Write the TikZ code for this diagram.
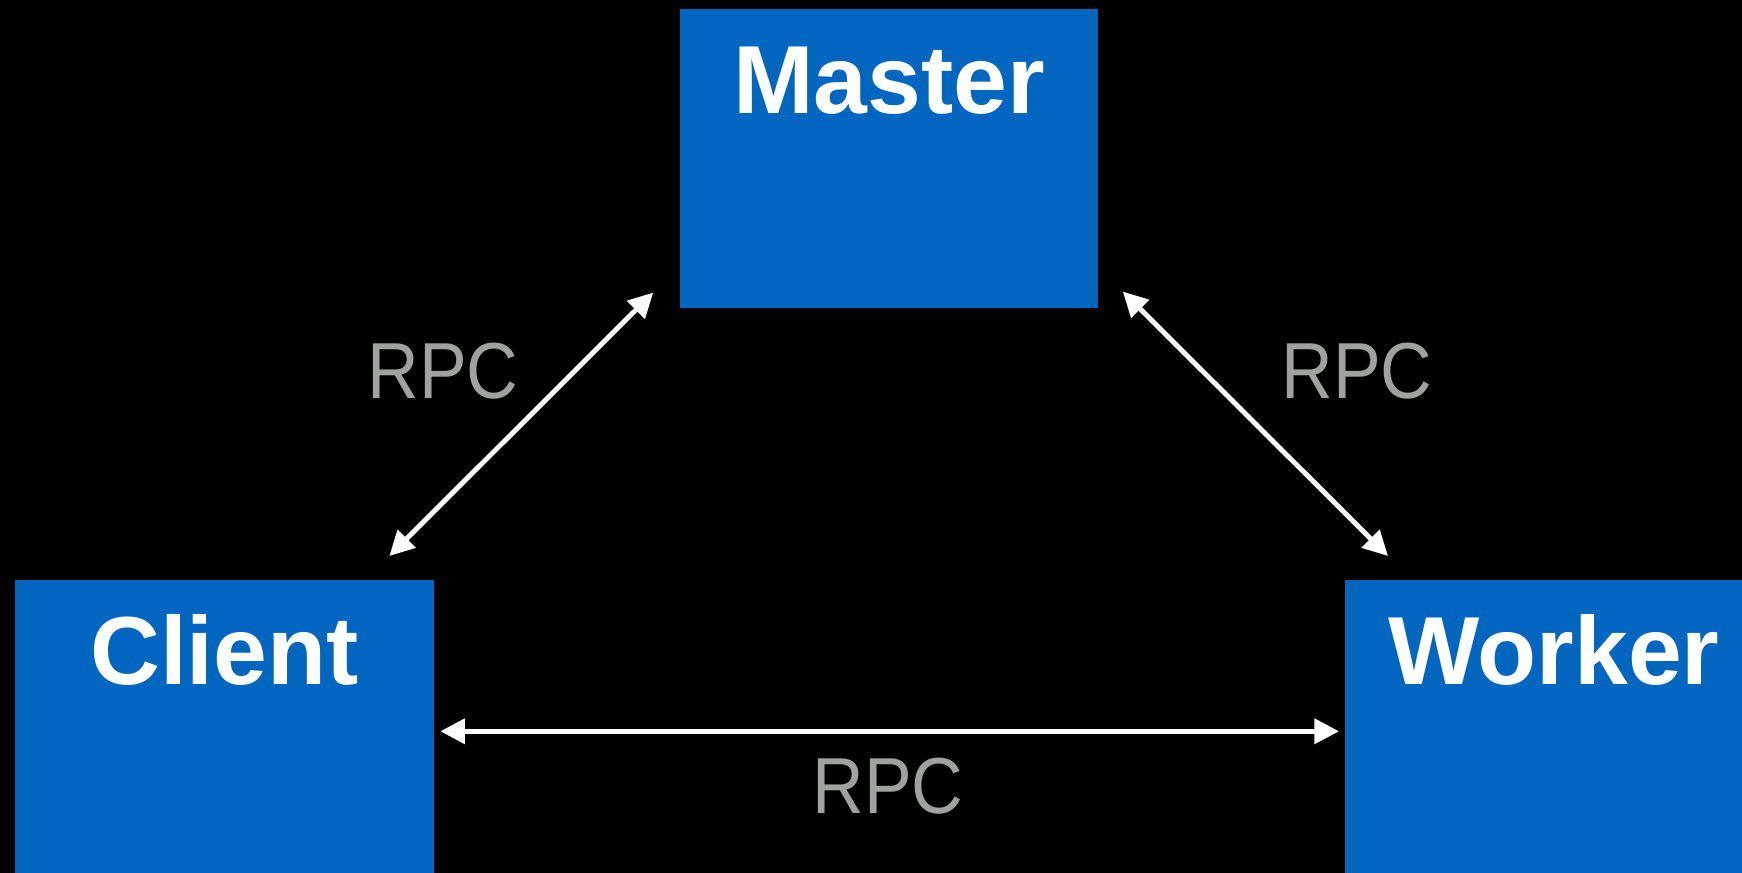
\documentclass[tikz,border=0pt]{standalone}
\usepackage{fontspec}
\setmainfont{Liberation Sans}
\newfontfamily\rpcfont{Liberation Sans}[FakeStretch=0.9]
\usepackage{tikz}
\usetikzlibrary{arrows.meta, positioning}
\definecolor{boxblue}{RGB}{0,102,192}
\definecolor{rpcgray}{RGB}{160,162,160}
\tikzset{
    procbox/.style={rectangle, fill=boxblue, inner sep=0pt, minimum width=4.18cm,
        text=white, font=\bfseries\fontsize{27.5}{30}\selectfont,
        text height=1.05cm, text depth=1.94cm},
    rpclink/.style={color=white, line width=1.4pt,
        {Triangle[length=7pt,width=7pt]}-{Triangle[length=7pt,width=7pt]}},
    rpclabel/.style={text=rpcgray, font=\rpcfont\fontsize{22.6}{24}\selectfont,
        anchor=base, inner sep=0pt}
}

\begin{document}
\begin{tikzpicture}[x=0.01cm, y=-0.01cm]
            % black page, fixes the size
            \fill[black] (0,0) rectangle (1742,873);
            \useasboundingbox (0,0) rectangle (1742,873);

            % the three processes
            \node[procbox, anchor=north] (master) at (889,8) {Master};
            \node[procbox, anchor=north] (client) at (224.5,579) {Client};
            \node[procbox, anchor=north west] (worker) at (1344,579) {Worker};

            % rpc channels
            \draw[rpclink] ([shift={(-45,-23)}]client.north east) -- ([shift={(-26,-16)}]master.south west);
            \draw[rpclink] ([shift={(24,-17)}]master.south east) -- ([shift={(44,-23)}]worker.north west);
            \draw[rpclink] ([shift={(6,2)}]client.east) -- ([shift={(-5,2)}]worker.west);

            \node[rpclabel] (rpcleft) at (443,399) {RPC};
            \node[rpclabel] (rpcright) at (1357,399) {RPC};
            \node[rpclabel] (rpcbottom) at (888,813) {RPC};
        \end{tikzpicture}
\end{document}
